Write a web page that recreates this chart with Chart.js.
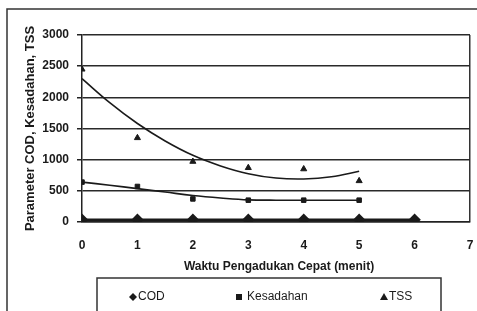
<!DOCTYPE html>
<html>
<head>
<meta charset="utf-8">
<script src="https://cdn.jsdelivr.net/npm/chart.js@4.4.1/dist/chart.umd.min.js"></script>
<style>
html,body{margin:0;padding:0;background:#fff;}
#wrap{width:477px;height:311px;position:relative;}
</style>
</head>
<body>
<div id="wrap"><canvas id="c" width="477" height="311"></canvas></div>
<script>
// ---- data ----
const minutes = [0, 1, 2, 3, 4, 5, 6];
const codValues = [35, 35, 35, 35, 35, 35, 35];
const kesadahanValues = [640, 570, 370, 350, 350, 350];
const tssValues = [2450, 1350, 970, 870, 850, 660];
const trendMinutes = [0, 0.5, 1, 1.5, 2, 2.5, 3, 3.5, 4, 4.5, 5];
const tssTrend = [2300, 1915, 1580, 1300, 1070, 900, 775, 705, 690, 725, 815];
const kesadahanTrend = [640, 590, 535, 480, 425, 385, 355, 350, 350, 350, 350];
const yTicks = [0, 500, 1000, 1500, 2000, 2500, 3000];
const xTicks = [0, 1, 2, 3, 4, 5, 6, 7];
const seriesNames = ['COD', 'Kesadahan', 'TSS'];
const xTitle = 'Waktu Pengadukan Cepat (menit)';
const yTitle = 'Parameter COD, Kesadahan, TSS';

const FONT = '"Liberation Sans", Arial, sans-serif';
const INK = '#1a1a1a';

function pts(xs, ys) { return ys.map((v, i) => ({ x: xs[i], y: v })); }

const extras = {
  id: 'extras',
  beforeDraw(chart) {
    const ctx = chart.ctx;
    ctx.save();
    ctx.fillStyle = '#fff';
    ctx.fillRect(0, 0, chart.width, chart.height);
    ctx.strokeStyle = '#333';
    ctx.lineWidth = 1.5;
    ctx.beginPath();
    ctx.moveTo(7, 311); ctx.lineTo(7, 9); ctx.lineTo(477, 9);
    ctx.stroke();
    ctx.restore();
  },
  afterDraw(chart) {
    const ctx = chart.ctx;
    const ca = chart.chartArea;
    ctx.save();
    ctx.fillStyle = INK;
    // y title
    ctx.font = 'bold 13px ' + FONT;
    ctx.textAlign = 'center';
    ctx.textBaseline = 'middle';
    ctx.save();
    ctx.translate(30, (ca.top + ca.bottom) / 2);
    ctx.rotate(-Math.PI / 2);
    ctx.fillText(yTitle, 0, 0);
    ctx.restore();
    // x title
    ctx.font = 'bold 12px ' + FONT;
    ctx.fillText(xTitle, (ca.left + ca.right) / 2 + 3, 267);
    // legend box
    ctx.strokeStyle = '#333';
    ctx.lineWidth = 1.5;
    ctx.strokeRect(97, 278, 344, 45);
    const ly = 297;
    ctx.font = '12px ' + FONT;
    ctx.textAlign = 'left';
    // diamond
    ctx.beginPath();
    ctx.moveTo(133, ly - 4); ctx.lineTo(137, ly); ctx.lineTo(133, ly + 4); ctx.lineTo(129, ly);
    ctx.closePath(); ctx.fill();
    ctx.fillText(seriesNames[0], 138, ly);
    // square
    ctx.fillRect(236, ly - 3, 6, 6);
    ctx.fillText(seriesNames[1], 247, ly);
    // triangle
    ctx.beginPath();
    ctx.moveTo(384, ly - 4); ctx.lineTo(388, ly + 3); ctx.lineTo(380, ly + 3);
    ctx.closePath(); ctx.fill();
    ctx.fillText(seriesNames[2], 389, ly);
    ctx.restore();
  }
};

new Chart(document.getElementById('c'), {
  type: 'scatter',
  data: {
    datasets: [
      { label: seriesNames[1] + ' trend', data: pts(trendMinutes, kesadahanTrend), showLine: true,
        borderColor: INK, borderWidth: 1.6, pointRadius: 0, tension: 0.4, fill: false },
      { label: seriesNames[2] + ' trend', data: pts(trendMinutes, tssTrend), showLine: true,
        borderColor: INK, borderWidth: 1.6, pointRadius: 0, tension: 0.4, fill: false },
      { label: seriesNames[0], data: pts(minutes, codValues), showLine: true,
        borderColor: INK, backgroundColor: INK, borderWidth: 2.5, pointStyle: 'rectRot', pointRadius: 4.5 },
      { label: seriesNames[1], data: pts(minutes, kesadahanValues), showLine: false,
        borderColor: INK, backgroundColor: INK, pointStyle: 'rect', pointRadius: 3.2, borderWidth: 1 },
      { label: seriesNames[2], data: pts(minutes, tssValues), showLine: false,
        borderColor: INK, backgroundColor: INK, pointStyle: 'triangle', pointRadius: 3.5, borderWidth: 1 }
    ]
  },
  options: {
    responsive: false,
    animation: false,
    devicePixelRatio: 1,
    layout: { padding: { left: 0, right: 7, top: 35, bottom: 0 } },
    plugins: { legend: { display: false }, tooltip: { enabled: false } },
    scales: {
      x: {
        type: 'linear', min: 0, max: 7,
        afterBuildTicks(scale) { scale.ticks = xTicks.map(v => ({ value: v })); },
        afterFit(scale) { scale.height = 89; },
        ticks: { color: INK, font: { family: FONT, size: 12, weight: 'bold' }, padding: 3, maxRotation: 0,
          callback: v => String(v) },
        grid: {
          color: ctx => (ctx.tick && ctx.tick.value === 7) ? '#333' : 'rgba(0,0,0,0)',
          lineWidth: 1.5, drawTicks: true, tickLength: 13, tickColor: 'rgba(0,0,0,0)'
        },
        border: { display: true, color: '#222', width: 1.5 }
      },
      y: {
        type: 'linear', min: 0, max: 3000,
        afterBuildTicks(scale) { scale.ticks = yTicks.map(v => ({ value: v })); },
        afterFit(scale) { scale.width = 82; },
        ticks: { color: INK, font: { family: FONT, size: 12, weight: 'bold' }, padding: 8,
          callback: v => String(v) },
        grid: { color: '#2a2a2a', lineWidth: 1.5, tickLength: 5, tickColor: '#222' },
        border: { display: true, color: '#222', width: 1.5 }
      }
    }
  },
  plugins: [extras]
});
</script>
</body>
</html>
